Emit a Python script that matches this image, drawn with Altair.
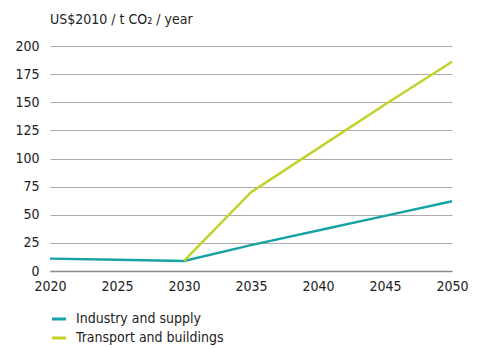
import altair as alt
import pandas as pd

years = [2020, 2025, 2030, 2035, 2040, 2045, 2050]
industry = [11, 10, 9, 23, 36, 49, 62]
transport_years = [2030, 2035, 2040, 2045, 2050]
transport = [9, 70, 109, 148, 186]
series_names = ["Industry and supply", "Transport and buildings"]
colors = ["#17a3a6", "#c4d12a"]
y_ticks = [0, 25, 50, 75, 100, 125, 150, 175, 200]
x_ticks = [2020, 2025, 2030, 2035, 2040, 2045, 2050]

rows = []
for y, v in zip(years, industry):
    rows.append({"year": y, "value": v, "series": series_names[0]})
for y, v in zip(transport_years, transport):
    rows.append({"year": y, "value": v, "series": series_names[1]})
df = pd.DataFrame(rows)

FONT = "DejaVu Sans Condensed, Roboto, sans-serif"
FS = 14

chart = alt.Chart(df).mark_line(strokeWidth=2.5).encode(
    x=alt.X("year:Q", scale=alt.Scale(domain=[2020, 2050], nice=False, zero=False),
            axis=alt.Axis(values=x_ticks, format="d", title=None, grid=False, ticks=False,
                          domain=True, domainColor="#888888", domainWidth=1.5,
                          labelFontSize=FS, labelPadding=8,
                          labelColor="#222", labelFont=FONT, labelFlush=False)),
    y=alt.Y("value:Q", scale=alt.Scale(domain=[0, 200], nice=False),
            axis=alt.Axis(values=y_ticks, title=None, grid=True, gridColor="#aaaaaa",
                          gridWidth=1, ticks=False, domain=False, labelFontSize=FS,
                          labelPadding=11, labelColor="#222", labelFont=FONT,
                          labelOverlap=False)),
    color=alt.Color("series:N", scale=alt.Scale(domain=series_names, range=colors),
                    legend=alt.Legend(title=None, orient="none", legendX=0, legendY=264,
                                      symbolType="stroke", symbolStrokeWidth=3,
                                      symbolSize=200, labelFontSize=FS, labelFont=FONT,
                                      labelColor="#222", rowPadding=3, labelOffset=8,
                                      padding=0)),
).properties(
    width=402, height=225,
    title=alt.TitleParams("US$2010 / t CO₂ / year", anchor="start", frame="group",
                          fontSize=FS, font=FONT, fontWeight="normal", color="#222",
                          offset=12),
    autosize=alt.AutoSizeParams(type="none"),
    padding={"left": 42, "top": 38, "right": 19, "bottom": 76},
).configure_view(stroke=None)

chart.save("out.html", embed_options={"renderer": "svg", "actions": False})
